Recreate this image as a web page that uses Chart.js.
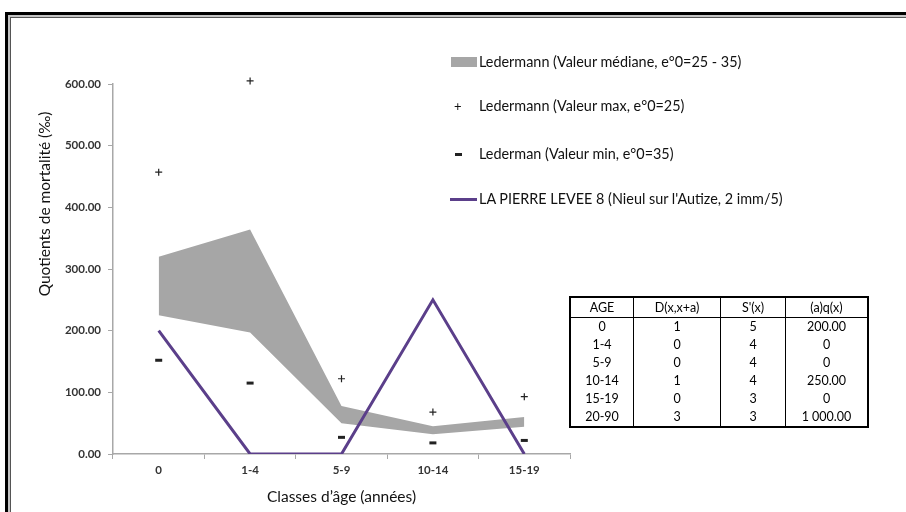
<!DOCTYPE html>
<html>
<head>
<meta charset="utf-8">
<script src="https://cdn.jsdelivr.net/npm/chart.js@4.4.1/dist/chart.umd.min.js"></script>
<style>
  body { margin: 0; background: #fff; font-family: Lato, "Liberation Sans", sans-serif; }
  #wrap { position: relative; width: 906px; height: 512px; overflow: hidden; }
  #frame { position: absolute; left: 5px; top: 12px; width: 940px; height: 540px;
    border-left: 3px solid #000; border-top: 3px solid #000; }
  #frame2 { position: absolute; left: 0; top: 0; right: 0; bottom: 0;
    border-left: 2px solid #c4c4c4; border-top: 2px solid #c4c4c4; }
  #frame3 { position: absolute; left: 0; top: 0; right: 0; bottom: 0;
    border-left: 1px solid #555; border-top: 1px solid #555; }
  canvas { position: absolute; left: 0; top: 0; }
  .leg { position: absolute; left: 450px; height: 20px; font-size: 14.4px; color: #111;
    line-height: 20px; white-space: nowrap; }
  .leg .sym { position: absolute; left: 0; top: 0; width: 28px; height: 20px; }
  .leg .txt { position: absolute; left: 29px; top: 0; }
  table { position: absolute; left: 569px; top: 296px; border-collapse: collapse;
    font-size: 12.5px; color: #000; border: 2px solid #000; }
  td, th { border-left: 1px solid #000; text-align: center; padding: 0; height: 18px;
    line-height: 18px; font-weight: normal; }
  th { border-bottom: 1px solid #000; height: 19px; }
</style>
</head>
<body>
<div id="wrap">
  <div id="frame"><div id="frame2"><div id="frame3"></div></div></div>
  <canvas id="chart" width="906" height="512"></canvas>
  <div id="legend"></div>
  <table id="tbl"></table>
</div>
<script>
const categories = ["0", "1-4", "5-9", "10-14", "15-19"];
const medianLow = [225, 197, 50, 32, 44];
const medianHigh = [320, 364, 78, 45, 60];
const maxValues = [457, 605, 122, 68, 93];
const minValues = [152, 115, 27, 18, 22];
const pierreLevee = [200, 0, 0, 250, 0];

const tableHeader = ["AGE", "D(x,x+a)", "S'(x)", "(a)q(x)"];
const tableAges = ["0", "1-4", "5-9", "10-14", "15-19", "20-90"];
const tableDeaths = [1, 0, 0, 1, 0, 3];
const tableSurvivors = [5, 4, 4, 4, 3, 3];
const tableQx = ["200.00", "0", "0", "250.00", "0", "1\u00a0000.00"];

const legendLabels = [
  "Ledermann (Valeur médiane, e°0=25 - 35)",
  "Ledermann (Valeur max, e°0=25)",
  "Lederman (Valeur min, e°0=35)",
  "LA PIERRE LEVEE 8 (Nieul sur l'Autize, 2 imm/5)",
];

const purple = "#5b3f8a";
const grey = "#a6a6a6";
const axisColor = "#a8a8a8";

// legend (html, placed like the original)
const legendTops = [52, 96, 144, 189];
const legendSyms = [
  '<div style="position:absolute;left:1px;top:5px;width:26px;height:10px;background:#a6a6a6"></div>',
  '<div style="position:absolute;left:4px;top:0;font-size:13px;line-height:20px">+</div>',
  '<div style="position:absolute;left:5px;top:9px;width:7px;height:3px;background:#222"></div>',
  '<div style="position:absolute;left:0;top:9px;width:27px;height:3px;background:' + purple + '"></div>',
];
const legendEl = document.getElementById("legend");
legendLabels.forEach((label, i) => {
  const d = document.createElement("div");
  d.className = "leg";
  d.style.top = legendTops[i] + "px";
  d.innerHTML = '<div class="sym">' + legendSyms[i] + '</div><div class="txt">' + label + "</div>";
  legendEl.appendChild(d);
});

// data table
const colWidths = [62, 86, 64, 81];
const tbl = document.getElementById("tbl");
let html = "<tr>" + tableHeader.map((h, i) => `<th style="width:${colWidths[i]}px">${h}</th>`).join("") + "</tr>";
tableAges.forEach((age, i) => {
  html += `<tr><td>${age}</td><td>${tableDeaths[i]}</td><td>${tableSurvivors[i]}</td><td>${tableQx[i]}</td></tr>`;
});
tbl.innerHTML = html;

// y axis title sits higher than the axis centre in the original
const yTitle = {
  id: "yTitle",
  afterDraw(chart) {
    const ctx = chart.ctx;
    ctx.save();
    ctx.translate(45, 204);
    ctx.rotate(-Math.PI / 2);
    ctx.font = "15.5px Lato";
    ctx.fillStyle = "#111";
    ctx.textAlign = "center";
    ctx.textBaseline = "middle";
    ctx.fillText("Quotients de mortalité (‰)", 0, 0);
    ctx.restore();
  },
};

new Chart(document.getElementById("chart"), {
  type: "line",
  data: {
    labels: categories,
    datasets: [
      {
        label: legendLabels[3],
        data: pierreLevee,
        borderColor: purple,
        borderWidth: 3,
        pointRadius: 0,
        tension: 0,
        fill: false,
      },
      {
        label: legendLabels[1],
        data: maxValues,
        showLine: false,
        clip: false,
        pointStyle: "cross",
        pointRadius: 3.5,
        borderColor: "#222",
        borderWidth: 1.2,
      },
      {
        label: legendLabels[2],
        data: minValues,
        showLine: false,
        pointStyle: "line",
        pointRadius: 3.5,
        borderColor: "#222",
        borderWidth: 3,
      },
      {
        label: legendLabels[0],
        data: medianHigh,
        borderWidth: 0,
        pointRadius: 0,
        backgroundColor: grey,
        fill: 4,
      },
      {
        label: "low",
        data: medianLow,
        borderWidth: 0,
        pointRadius: 0,
        fill: false,
      },
    ],
  },
  plugins: [yTitle],
  options: {
    responsive: false,
    animation: false,
    layout: { padding: { top: 84, right: 336, left: 0, bottom: 0 } },
    plugins: {
      legend: { display: false },
      tooltip: { enabled: false },
    },
    scales: {
      x: {
        offset: true,
        afterFit(scale) { scale.height = 58; },
        grid: { offset: true, drawOnChartArea: false, tickLength: 5, color: axisColor },
        border: { color: axisColor, width: 1.5 },
        ticks: { color: "#333", font: { family: "Lato", size: 11.5, weight: "bold" }, padding: 4, maxRotation: 0 },
        title: {
          display: true,
          text: "Classes d’âge (années)",
          color: "#111",
          font: { family: "Lato", size: 15.5 },
          padding: { top: 4, bottom: 6 },
        },
      },
      y: {
        min: 0,
        max: 600,
        afterFit(scale) { scale.width = 113; },
        grid: { drawOnChartArea: false, tickLength: 5, color: axisColor },
        border: { color: axisColor, width: 1.5 },
        ticks: {
          stepSize: 100,
          color: "#333",
          padding: 7,
          font: { family: "Lato", size: 11.5, weight: "bold" },
          callback: (v) => v.toFixed(2),
        },
      },
    },
  },
});
</script>
</body>
</html>
